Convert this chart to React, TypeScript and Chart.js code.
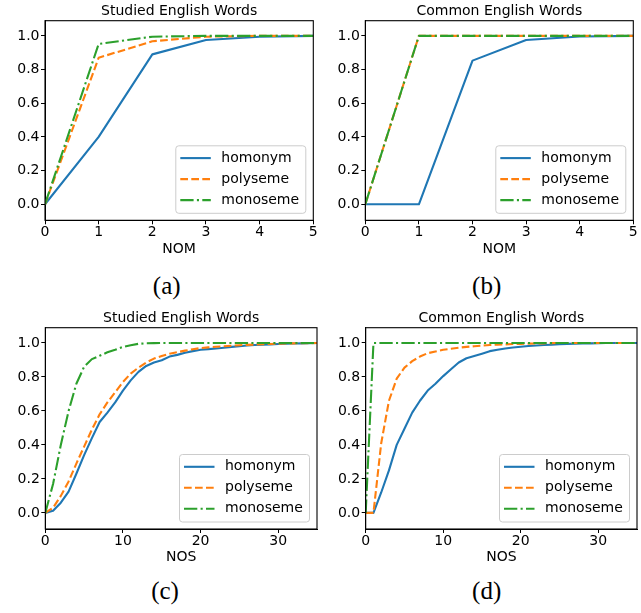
import React, { useEffect, useRef } from "react";
import { Chart, registerables } from "chart.js";

Chart.register(...registerables);

// ---------------- data ----------------
const seriesLabels = ["homonym", "polyseme", "monoseme"];

const nomX = [0, 1, 2, 3, 4, 5];
const nomTicks = [0, 1, 2, 3, 4, 5];
const nosX = [0, 1, 2, 3, 4, 5, 6, 7, 8, 9, 10, 11, 12, 13, 14, 15, 16, 17, 18, 19, 20, 21, 22, 23, 24, 25, 26, 27, 28, 29, 30, 31, 32, 33, 34, 35];
const nosTicks = [0, 10, 20, 30];
const yTicks = [0, 0.2, 0.4, 0.6, 0.8, 1.0];

// (a) Studied English Words, NOM
const studiedNomHomonym = [0, 0.4, 0.89, 0.975, 0.995, 1.0];
const studiedNomPolyseme = [0, 0.87, 0.968, 0.995, 1.0, 1.0];
const studiedNomMonoseme = [0, 0.952, 0.995, 1.0, 1.0, 1.0];

// (b) Common English Words, NOM
const commonNomHomonym = [0, 0, 0.853, 0.975, 0.996, 1.0];
const commonNomPolyseme = [0, 1, 1, 1, 1, 1];
const commonNomMonoseme = [0, 1, 1, 1, 1, 1];

// (c) Studied English Words, NOS
const studiedNosHomonym = [0, 0.012, 0.06, 0.125, 0.23, 0.34, 0.44, 0.535, 0.59, 0.65, 0.72, 0.78, 0.83, 0.865, 0.885, 0.898, 0.92, 0.93, 0.943, 0.952, 0.96, 0.964, 0.968, 0.972, 0.977, 0.981, 0.985, 0.988, 0.99, 0.992, 0.994, 0.996, 0.997, 0.998, 0.999, 1.0];
const studiedNosPolyseme = [0, 0.03, 0.1, 0.185, 0.29, 0.39, 0.49, 0.58, 0.65, 0.71, 0.77, 0.82, 0.855, 0.885, 0.908, 0.923, 0.937, 0.946, 0.955, 0.963, 0.97, 0.974, 0.978, 0.981, 0.984, 0.987, 0.989, 0.991, 0.993, 0.994, 0.996, 0.997, 0.998, 0.999, 0.999, 1.0];
const studiedNosMonoseme = [0, 0.17, 0.4, 0.6, 0.76, 0.86, 0.905, 0.925, 0.945, 0.96, 0.977, 0.987, 0.995, 0.998, 0.999, 1, 1, 1, 1, 1, 1, 1, 1, 1, 1, 1, 1, 1, 1, 1, 1, 1, 1, 1, 1, 1];

// (d) Common English Words, NOS
const commonNosHomonym = [0, 0, 0.12, 0.25, 0.4, 0.495, 0.59, 0.66, 0.72, 0.76, 0.805, 0.845, 0.885, 0.91, 0.923, 0.937, 0.952, 0.96, 0.968, 0.973, 0.978, 0.982, 0.985, 0.988, 0.99, 0.993, 0.995, 0.996, 0.997, 0.998, 0.999, 1, 1, 1, 1, 1];
const commonNosPolyseme = [0, 0, 0.41, 0.66, 0.79, 0.855, 0.893, 0.92, 0.94, 0.95, 0.96, 0.966, 0.972, 0.977, 0.981, 0.985, 0.988, 0.99, 0.992, 0.994, 0.995, 0.996, 0.997, 0.998, 0.999, 1, 1, 1, 1, 1, 1, 1, 1, 1, 1, 1];
const commonNosMonoseme = [0, 1, 1, 1, 1, 1, 1, 1, 1, 1, 1, 1, 1, 1, 1, 1, 1, 1, 1, 1, 1, 1, 1, 1, 1, 1, 1, 1, 1, 1, 1, 1, 1, 1, 1, 1];

// ---------------- styles ----------------
const FONT = "'DejaVu Sans', sans-serif";
const colors = ["#1f77b4", "#ff7f0e", "#2ca02c"];
const dashes: number[][] = [[], [7.7, 3.3], [13.3, 3.3, 2.1, 3.3]];

const frameLegendPlugin = {
  id: "frameLegend",
  afterDatasetsDraw(chart: any) {
    const { ctx, chartArea: a } = chart;
    ctx.save();
    ctx.setLineDash([]);
    ctx.strokeStyle = "#000";
    ctx.lineWidth = 1.1;
    ctx.strokeRect(a.left, a.top, a.right - a.left, a.bottom - a.top);

    const bw = 130;
    const bh = 67.5;
    const bx = a.right - 7.5 - bw;
    const by = a.bottom - 7 - bh;
    const r = 3;
    ctx.beginPath();
    ctx.moveTo(bx + r, by);
    ctx.lineTo(bx + bw - r, by);
    ctx.arcTo(bx + bw, by, bx + bw, by + r, r);
    ctx.lineTo(bx + bw, by + bh - r);
    ctx.arcTo(bx + bw, by + bh, bx + bw - r, by + bh, r);
    ctx.lineTo(bx + r, by + bh);
    ctx.arcTo(bx, by + bh, bx, by + bh - r, r);
    ctx.lineTo(bx, by + r);
    ctx.arcTo(bx, by, bx + r, by, r);
    ctx.closePath();
    ctx.fillStyle = "rgba(255,255,255,0.8)";
    ctx.fill();
    ctx.strokeStyle = "#cccccc";
    ctx.lineWidth = 1;
    ctx.stroke();

    chart.data.datasets.forEach((ds: any, i: number) => {
      const y = by + 12.3 + i * 21;
      ctx.beginPath();
      ctx.setLineDash(ds.borderDash || []);
      ctx.strokeStyle = ds.borderColor;
      ctx.lineWidth = 2.1;
      ctx.lineCap = "butt";
      ctx.moveTo(bx + 4.5, y);
      ctx.lineTo(bx + 35, y);
      ctx.stroke();
      ctx.setLineDash([]);
      ctx.fillStyle = "#000";
      ctx.font = `14px ${FONT}`;
      ctx.textBaseline = "middle";
      ctx.textAlign = "left";
      ctx.fillText(ds.label, bx + 45.5, y);
    });
    ctx.restore();
  },
};

type PanelProps = {
  left: number;
  top: number;
  width: number;
  height: number;
  area: { l: number; r: number; t: number; b: number };
  title: string;
  xLabel: string;
  xs: number[];
  xMax: number;
  xTicks: number[];
  series: number[][];
  xTitlePad: number;
};

function Panel(p: PanelProps) {
  const ref = useRef<HTMLCanvasElement | null>(null);
  useEffect(() => {
    if (!ref.current) return;
    const chart = new Chart(ref.current, {
      type: "line",
      data: {
        datasets: p.series.map((vals, i) => ({
          label: seriesLabels[i],
          data: p.xs.map((x, j) => ({ x, y: vals[j] })),
          borderColor: colors[i],
          backgroundColor: colors[i],
          borderWidth: 2.1,
          borderDash: dashes[i],
          borderCapStyle: "butt",
          borderJoinStyle: "round",
          pointRadius: 0,
          tension: 0,
          fill: false,
          order: 2 - i,
        })),
      },
      options: {
        animation: false,
        responsive: false,
        maintainAspectRatio: false,
        layout: { padding: { left: 0, right: p.width - p.area.r, top: 0, bottom: 0 } },
        plugins: {
          legend: { display: false },
          tooltip: { enabled: false },
          title: {
            display: true,
            text: p.title,
            fullSize: false,
            color: "#000",
            font: { size: 14, weight: "normal", family: FONT },
            padding: { top: 3, bottom: p.area.t - 3 - 16.8 },
          },
        },
        scales: {
          x: {
            type: "linear",
            min: 0,
            max: p.xMax,
            afterBuildTicks: (s: any) => {
              s.ticks = p.xTicks.map((v) => ({ value: v }));
            },
            afterFit: (s: any) => {
              s.height = p.height - p.area.b;
            },
            ticks: {
              color: "#000",
              font: { size: 14, family: FONT },
              padding: 0,
              maxRotation: 0,
              autoSkip: false,
              callback: (v: any) => String(v),
            },
            grid: { drawOnChartArea: false, drawTicks: true, tickLength: 4, color: "#000" },
            border: { display: true, color: "#000", width: 1 },
            title: {
              display: true,
              text: p.xLabel,
              color: "#000",
              font: { size: 14, family: FONT },
              padding: { top: 0, bottom: p.xTitlePad },
            },
          },
          y: {
            type: "linear",
            min: -0.095,
            max: 1.09,
            afterBuildTicks: (s: any) => {
              s.ticks = yTicks.map((v) => ({ value: v }));
            },
            afterFit: (s: any) => {
              s.width = p.area.l;
            },
            ticks: {
              color: "#000",
              font: { size: 14, family: FONT },
              padding: 1.5,
              callback: (v: any) => Number(v).toFixed(1),
            },
            grid: { drawOnChartArea: false, drawTicks: true, tickLength: 4, color: "#000" },
            border: { display: true, color: "#000", width: 1 },
          },
        },
      } as any,
      plugins: [frameLegendPlugin],
    });
    return () => chart.destroy();
  }, []);
  return (
    <canvas
      ref={ref}
      width={p.width}
      height={p.height}
      style={{ position: "absolute", left: p.left, top: p.top, width: p.width, height: p.height }}
    />
  );
}

const captionStyle = (x: number, y: number): React.CSSProperties => ({
  position: "absolute",
  left: x,
  top: y,
  transform: "translate(-50%, -50%)",
  fontFamily: "'Liberation Serif', serif",
  fontSize: 25,
  lineHeight: 1,
  color: "#000",
  whiteSpace: "nowrap",
});

export default function App() {
  return (
    <div style={{ position: "absolute", left: 0, top: 0, width: 641, height: 613, background: "#fff", overflow: "hidden" }}>
      <Panel
        left={0}
        top={0}
        width={320}
        height={262}
        area={{ l: 45, r: 313.3, t: 20.7, b: 220.3 }}
        title="Studied English Words"
        xLabel="NOM"
        xs={nomX}
        xMax={5}
        xTicks={nomTicks}
        series={[studiedNomHomonym, studiedNomPolyseme, studiedNomMonoseme]}
        xTitlePad={4.6}
      />
      <Panel
        left={320}
        top={0}
        width={320}
        height={262}
        area={{ l: 45.3, r: 313.3, t: 20.7, b: 220.3 }}
        title="Common English Words"
        xLabel="NOM"
        xs={nomX}
        xMax={5}
        xTicks={nomTicks}
        series={[commonNomHomonym, commonNomPolyseme, commonNomMonoseme]}
        xTitlePad={4.6}
      />
      <Panel
        left={0}
        top={307}
        width={322}
        height={262}
        area={{ l: 45.3, r: 317, t: 20.7, b: 222 }}
        title="Studied English Words"
        xLabel="NOS"
        xs={nosX}
        xMax={35}
        xTicks={nosTicks}
        series={[studiedNosHomonym, studiedNosPolyseme, studiedNosMonoseme]}
        xTitlePad={2.9}
      />
      <Panel
        left={320}
        top={307}
        width={321}
        height={262}
        area={{ l: 45.7, r: 317, t: 20.7, b: 222 }}
        title="Common English Words"
        xLabel="NOS"
        xs={nosX}
        xMax={35}
        xTicks={nosTicks}
        series={[commonNosHomonym, commonNosPolyseme, commonNosMonoseme]}
        xTitlePad={2.9}
      />
      <div style={captionStyle(166.7, 285)}>(a)</div>
      <div style={captionStyle(486.7, 285)}>(b)</div>
      <div style={captionStyle(165, 590)}>(c)</div>
      <div style={captionStyle(486.7, 590)}>(d)</div>
    </div>
  );
}
